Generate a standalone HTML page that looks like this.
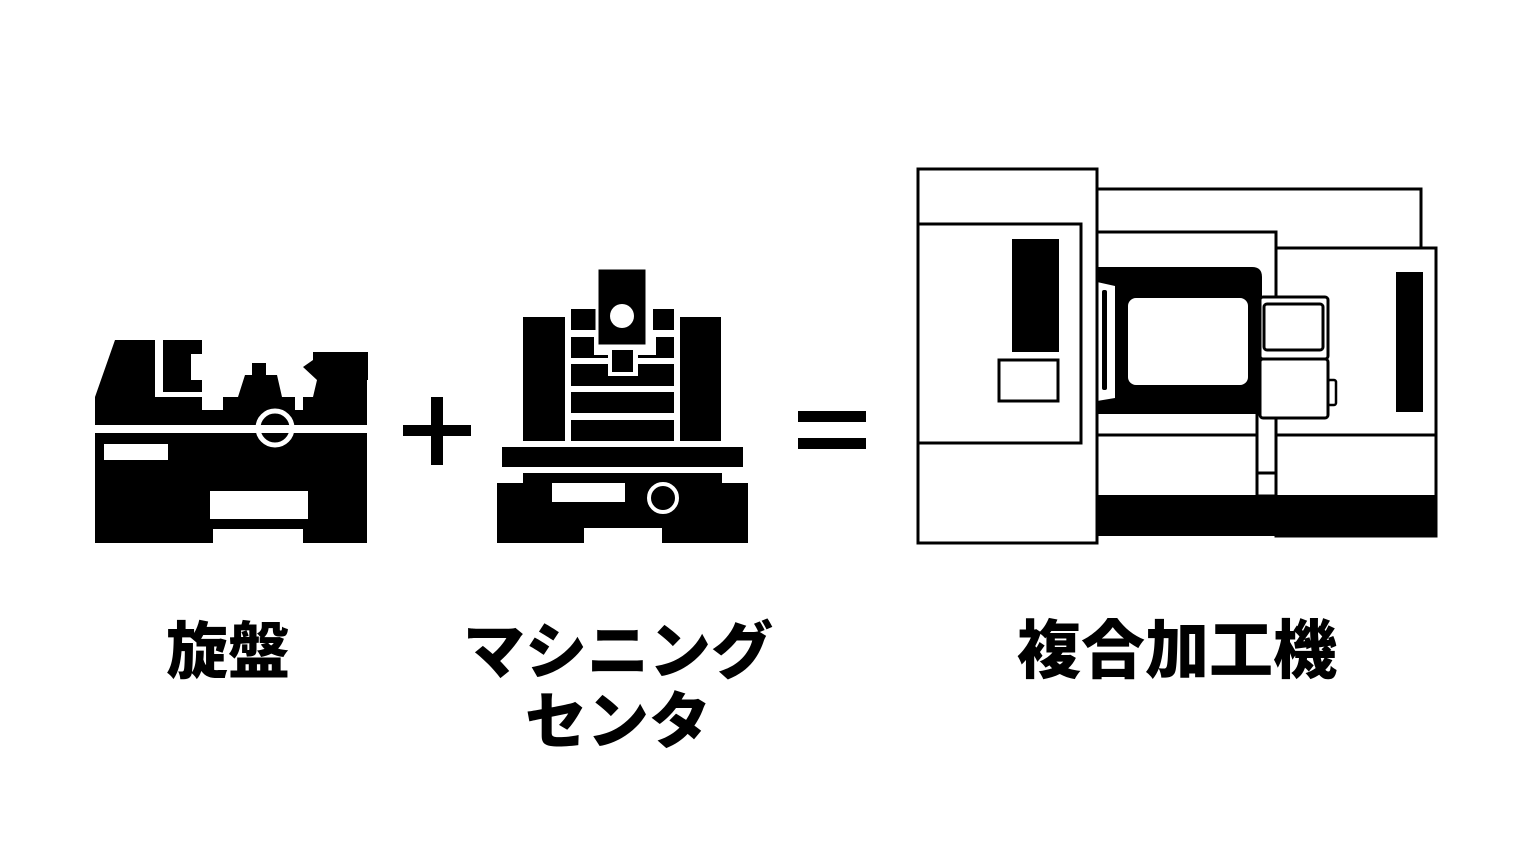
<!DOCTYPE html>
<html><head><meta charset="utf-8"><style>
html,body{margin:0;padding:0;background:#fff;}
svg{display:block;}
text{font-family:"Liberation Sans","Noto Sans CJK JP",sans-serif;font-weight:900;fill:#000;}
</style></head><body>
<svg width="1536" height="864" viewBox="0 0 1536 864" xmlns="http://www.w3.org/2000/svg">
<!-- Lathe -->
<g fill="#000">
<path d="M95,397 L115,340 L155,340 L155,397 L202,397 L202,410 L223,410 L223,397 L238,397 L245,375 L252,375 L252,363 L266,363 L266,375 L277,375 L282,397 L295,397 L295,410 L303,410 L303,397 L313,397 L317,380 L303,367 L313,360 L313,352 L368,352 L368,380 L367,380 L367,425 L95,425 Z"/>
<path d="M163,340 L202,340 L202,354 L191,354 L191,380 L202,380 L202,392 L163,392 Z"/>
<path d="M95,433 L367,433 L367,543 L303,543 L303,529 L213,529 L213,543 L95,543 Z"/>
</g>
<rect x="104" y="444" width="64" height="16" fill="#fff"/>
<rect x="210" y="491" width="98" height="28" fill="#fff"/>
<circle cx="275" cy="428" r="17" fill="#000" stroke="#fff" stroke-width="5"/>
<rect x="255" y="425" width="40" height="8" fill="#fff"/>
<!-- Plus -->
<rect x="403" y="425" width="68" height="11" fill="#000"/>
<rect x="431" y="397" width="12" height="68" fill="#000"/>
<!-- Machining center -->
<g fill="#000">
<rect x="523" y="317" width="42" height="124"/>
<rect x="680" y="317" width="41" height="124"/>
<rect x="571" y="309" width="25" height="21"/>
<rect x="653" y="309" width="21" height="21"/>
<rect x="571" y="337" width="103" height="21"/>
<rect x="571" y="364" width="103" height="22"/>
<rect x="571" y="392" width="103" height="21"/>
<rect x="571" y="420" width="103" height="21"/>
<rect x="502" y="447" width="241" height="20"/>
<path d="M523,473 L722,473 L722,483 L748,483 L748,543 L662,543 L662,528 L584,528 L584,543 L497,543 L497,483 L523,483 Z"/>
</g>
<rect x="594" y="337" width="62" height="18" fill="#fff"/>
<rect x="608" y="346" width="30" height="30" fill="#fff"/>
<rect x="612" y="350" width="21" height="22" fill="#000"/>
<rect x="597" y="268" width="50" height="78" fill="#000" stroke="#fff" stroke-width="3"/>
<circle cx="622" cy="316" r="12" fill="#fff"/>
<rect x="552" y="483" width="73" height="19" fill="#fff"/>
<circle cx="663" cy="498" r="14" fill="#000" stroke="#fff" stroke-width="4"/>
<!-- Equals -->
<rect x="798" y="411" width="68" height="11" fill="#000"/>
<rect x="798" y="438" width="68" height="11" fill="#000"/>
<!-- Multi-tasking machine -->
<g fill="none" stroke="#000" stroke-width="3">
<rect x="1097" y="189" width="324" height="60" fill="#fff"/>
<rect x="1276" y="248" width="160" height="288" fill="#fff"/>
<rect x="1097" y="232" width="179" height="203" fill="#fff"/>
<line x1="1097" y1="435" x2="1436" y2="435"/>
</g>
<path d="M1097,267 L1252,267 Q1262,267 1262,277 L1262,414 L1097,414 Z" fill="#000"/>
<rect x="1128" y="298" width="120" height="87" rx="8" fill="#fff"/>
<path d="M1097,282 L1115,286 L1115,398 L1097,401 Z" fill="#fff"/>
<rect x="1102" y="290" width="5" height="100" rx="2" fill="#000"/>
<rect x="1257" y="414" width="19" height="82" fill="#fff" stroke="#000" stroke-width="3"/>
<line x1="1257" y1="473" x2="1276" y2="473" stroke="#000" stroke-width="3"/>
<rect x="1260" y="297" width="68" height="62" rx="3" fill="#fff" stroke="#000" stroke-width="3"/>
<rect x="1264" y="304" width="59" height="46" rx="3" fill="none" stroke="#000" stroke-width="3"/>
<rect x="1328" y="380" width="8" height="25" rx="2" fill="#fff" stroke="#000" stroke-width="2.5"/>
<rect x="1260" y="359" width="68" height="59" rx="3" fill="#fff" stroke="#000" stroke-width="3"/>
<rect x="1396" y="272" width="27" height="140" fill="#000"/>
<rect x="1097" y="495" width="339" height="41" fill="#000"/>
<g fill="#fff" stroke="#000" stroke-width="3">
<rect x="918" y="169" width="179" height="374"/>
<rect x="918" y="224" width="163" height="219"/>
<rect x="999" y="360" width="59" height="41"/>
</g>
<rect x="1012" y="239" width="47" height="113" fill="#000"/>
<!-- Labels -->
<text x="228" y="673" font-size="62" text-anchor="middle">旋盤</text>
<text x="618" y="673" font-size="62" text-anchor="middle">マシニング</text>
<text x="618" y="743" font-size="62" text-anchor="middle">センタ</text>
<text x="1177" y="673" font-size="64" text-anchor="middle">複合加工機</text>
</svg>
</body></html>
